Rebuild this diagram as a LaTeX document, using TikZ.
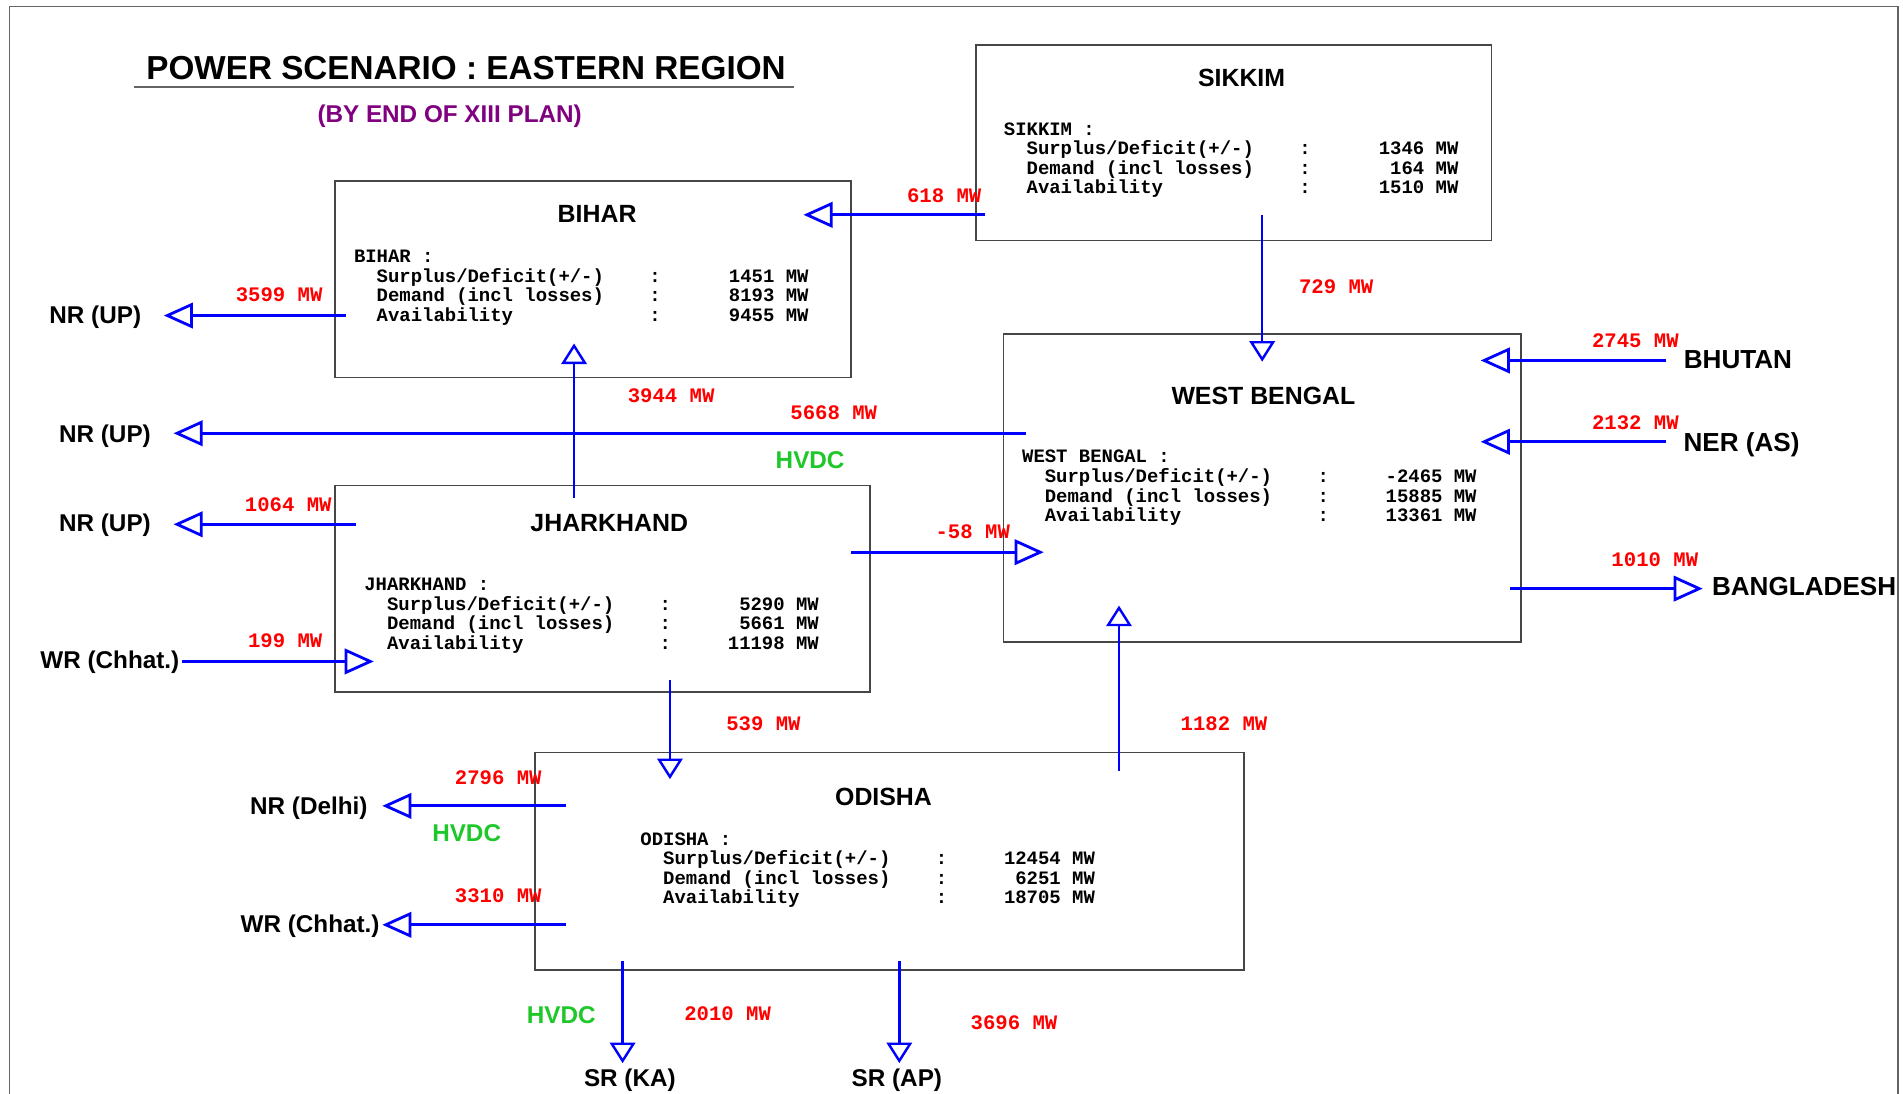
\documentclass[tikz,border=0pt]{standalone}
\usepackage{fontspec}
\setmainfont{Liberation Sans}
\setmonofont{Liberation Mono}
\usetikzlibrary{arrows.meta}

\definecolor{flowblue}{RGB}{0,0,255}
\definecolor{flowred}{RGB}{255,0,0}
\definecolor{hvdcgreen}{RGB}{30,200,40}
\definecolor{planpurple}{RGB}{128,0,128}
\definecolor{boxgray}{RGB}{70,70,70}
\definecolor{framegray}{RGB}{100,100,100}

% width of one monospaced character, set inside each statistics block
\newlength\datacw
\newcommand\statrow[2]{\makebox[26\datacw][l]{\hspace*{2\datacw}#1}:\makebox[13\datacw][r]{#2}}
\newcommand\statblock[4]{\settowidth{\datacw}{0}%
  \begin{tabular}[t]{@{}l@{}}
    #1 :\\
    \statrow{Surplus/Deficit(+/-)}{#2}\\
    \statrow{Demand (incl losses)}{#3}\\
    \statrow{Availability}{#4}
  \end{tabular}}

\tikzset{
  region/.style={draw=boxgray, line width=1.3pt, inner sep=0pt, rectangle},
  regtitle/.style={font=\fontsize{20.5}{24}\selectfont\bfseries, anchor=base, inner sep=0pt},
  place/.style={font=\fontsize{20}{24}\selectfont\bfseries, anchor=base, inner sep=0pt},
  bigplace/.style={font=\fontsize{21.5}{26}\selectfont\bfseries, anchor=base, inner sep=0pt},
  mw/.style={font=\fontsize{17}{20}\selectfont\ttfamily\bfseries, text=flowred, anchor=base, inner sep=0pt},
  hvdc/.style={font=\fontsize{20}{24}\selectfont\bfseries, text=hvdcgreen, anchor=base, inner sep=0pt},
  stats/.style={font=\fontsize{15.6}{15.9}\selectfont\ttfamily\bfseries, anchor=base west, inner sep=0pt},
  flowh/.style={draw=flowblue, line width=2.3pt, -{Triangle[open, length=24pt, width=21pt]}},
  flowv/.style={draw=flowblue, line width=2pt, -{Triangle[open, length=17pt, width=21pt]}},
}

\begin{document}
\begin{tikzpicture}[x=1pt, y=-1pt]
\useasboundingbox (0,0) rectangle (1568,901);
\fill[white] (0,0) rectangle (1568,901);

% page frame
\draw[framegray, line width=1.3pt] (8,910) -- (8,5.5) -- (1564,5.5) -- (1564,910);

% heading
\node[font=\fontsize{27.4}{32}\selectfont\bfseries, anchor=base, inner sep=0pt] (title) at (384,65.5) {POWER SCENARIO : EASTERN REGION};
\draw[framegray, line width=1.5pt] (110,71.5) -- (654,71.5);
\node[font=\fontsize{20}{24}\selectfont\bfseries, text=planpurple, anchor=base, inner sep=0pt] (subtitle) at (370.5,101) {(BY END OF XIII PLAN)};

% regions
\node[region, minimum width=425pt, minimum height=161pt] (sikkim) at (1016.5,117.5) {};
\node[region, minimum width=425pt, minimum height=162pt] (bihar) at (488.5,230) {};
\node[region, minimum width=441pt, minimum height=170pt] (jharkhand) at (496.5,485) {};
\node[region, minimum width=426pt, minimum height=254pt] (wbengal) at (1040,402) {};
\node[region, minimum width=584pt, minimum height=179pt] (odisha) at (733,709.5) {};

\node[regtitle] (sikkim-t) at (1023,71.3) {SIKKIM};
\node[regtitle] (bihar-t) at (492,183.3) {BIHAR};
\node[regtitle] (jharkhand-t) at (502,438.3) {JHARKHAND};
\node[regtitle] (wbengal-t) at (1041,333.3) {WEST BENGAL};
\node[regtitle] (odisha-t) at (728,663.3) {ODISHA};

\node[stats] (sikkim-d) at (827,111.4) {\statblock{SIKKIM}{1346 MW}{164 MW}{1510 MW}};
\node[stats] (bihar-d) at (291.5,216.4) {\statblock{BIHAR}{1451 MW}{8193 MW}{9455 MW}};
\node[stats] (jharkhand-d) at (300,486.4) {\statblock{JHARKHAND}{5290 MW}{5661 MW}{11198 MW}};
\node[stats] (wbengal-d) at (842,381.4) {\statblock{WEST BENGAL}{-2465 MW}{15885 MW}{13361 MW}};
\node[stats] (odisha-d) at (527.5,696.4) {\statblock{ODISHA}{12454 MW}{6251 MW}{18705 MW}};

% neighbouring regions and countries
\node[place] (nrup-a) at (78.5,266.2) {NR (UP)};
\node[place] (nrup-b) at (86.5,364.2) {NR (UP)};
\node[place] (nrup-c) at (86.5,438.2) {NR (UP)};
\node[place] (wrch-a) at (90.5,551.2) {WR (Chhat.)};
\node[bigplace] (bhutan) at (1432,303.7) {BHUTAN};
\node[bigplace] (ner) at (1435,371.7) {NER (AS)};
\node[bigplace] (bangla) at (1486.5,490.7) {BANGLADESH};
\node[place] (nrdelhi) at (254.5,671.2) {NR (Delhi)};
\node[place] (wrch-b) at (255.5,768.2) {WR (Chhat.)};
\node[place] (srka) at (519,895.2) {SR (KA)};
\node[place] (srap) at (739,895.2) {SR (AP)};

% connector end points
\coordinate (sk-w) at (812,177);   \coordinate (bi-ne) at (662,177);
\coordinate (sk-s) at (1040,177);  \coordinate (wb-n) at (1040,298);
\coordinate (bi-w) at (285,260);   \coordinate (nrup-a-e) at (135,260);
\coordinate (jh-n) at (473,410);   \coordinate (bi-s) at (473,283);
\coordinate (wb-w) at (845,357);   \coordinate (nrup-b-e) at (143,357);
\coordinate (jh-w) at (293,432);   \coordinate (nrup-c-e) at (143,432);
\coordinate (wrch-a-e) at (150,545); \coordinate (jh-sw) at (308,545);
\coordinate (jh-e) at (701,455);   \coordinate (wb-sw) at (860,455);
\coordinate (jh-s) at (552,560);   \coordinate (od-nw) at (552,642);
\coordinate (od-n) at (922,635);   \coordinate (wb-s) at (922,499);
\coordinate (bhutan-w) at (1373,297); \coordinate (wb-ne) at (1220,297);
\coordinate (ner-w) at (1373,364); \coordinate (wb-e) at (1220,364);
\coordinate (wb-se) at (1244,485); \coordinate (bangla-w) at (1403,485);
\coordinate (od-w1) at (466,664);  \coordinate (nrdelhi-e) at (315,664);
\coordinate (od-w2) at (466,762);  \coordinate (wrch-b-e) at (315,762);
\coordinate (od-s1) at (513,792);  \coordinate (srka-n) at (513,876);
\coordinate (od-s2) at (741,792);  \coordinate (srap-n) at (741,876);

% power flows
\draw[flowh] (sk-w) -- (bi-ne);
\draw[flowv] (sk-s) -- (wb-n);
\draw[flowh] (bi-w) -- (nrup-a-e);
\draw[flowv] (jh-n) -- (bi-s);
\draw[flowh] (wb-w) -- (nrup-b-e);
\draw[flowh] (jh-w) -- (nrup-c-e);
\draw[flowh] (wrch-a-e) -- (jh-sw);
\draw[flowh] (jh-e) -- (wb-sw);
\draw[flowv] (jh-s) -- (od-nw);
\draw[flowv] (od-n) -- (wb-s);
\draw[flowh] (bhutan-w) -- (wb-ne);
\draw[flowh] (ner-w) -- (wb-e);
\draw[flowh] (wb-se) -- (bangla-w);
\draw[flowh] (od-w1) -- (nrdelhi-e);
\draw[flowh] (od-w2) -- (wrch-b-e);
\draw[flowv] (od-s1) -- (srka-n);
\draw[flowv] (od-s2) -- (srap-n);

% flow quantities
\node[mw] (f-skbi) at (778,166.5) {618 MW};
\node[mw] (f-skwb) at (1101,241.5) {729 MW};
\node[mw] (f-binr) at (230,248.5) {3599 MW};
\node[mw] (f-jhbi) at (553,331.5) {3944 MW};
\node[mw] (f-wbnr) at (687,345.5) {5668 MW};
\node[mw] (f-jhnr) at (237.5,421.5) {1064 MW};
\node[mw] (f-wrjh) at (235,533.5) {199 MW};
\node[mw] (f-jhwb) at (801.5,443.5) {-58 MW};
\node[mw] (f-jhod) at (629,601.5) {539 MW};
\node[mw] (f-odwb) at (1008.5,601.5) {1182 MW};
\node[mw] (f-bhwb) at (1347.5,286.5) {2745 MW};
\node[mw] (f-nerwb) at (1347.5,353.5) {2132 MW};
\node[mw] (f-wbbd) at (1363.5,466.5) {1010 MW};
\node[mw] (f-odnr) at (410.5,646.5) {2796 MW};
\node[mw] (f-odwr) at (410.5,743.5) {3310 MW};
\node[mw] (f-odka) at (599.5,840.5) {2010 MW};
\node[mw] (f-odap) at (835.5,848.5) {3696 MW};

% HVDC links
\node[hvdc] (hvdc-a) at (667.5,386.2) {HVDC};
\node[hvdc] (hvdc-b) at (384.5,693.2) {HVDC};
\node[hvdc] (hvdc-c) at (462.5,843.2) {HVDC};
\end{tikzpicture}
\end{document}
